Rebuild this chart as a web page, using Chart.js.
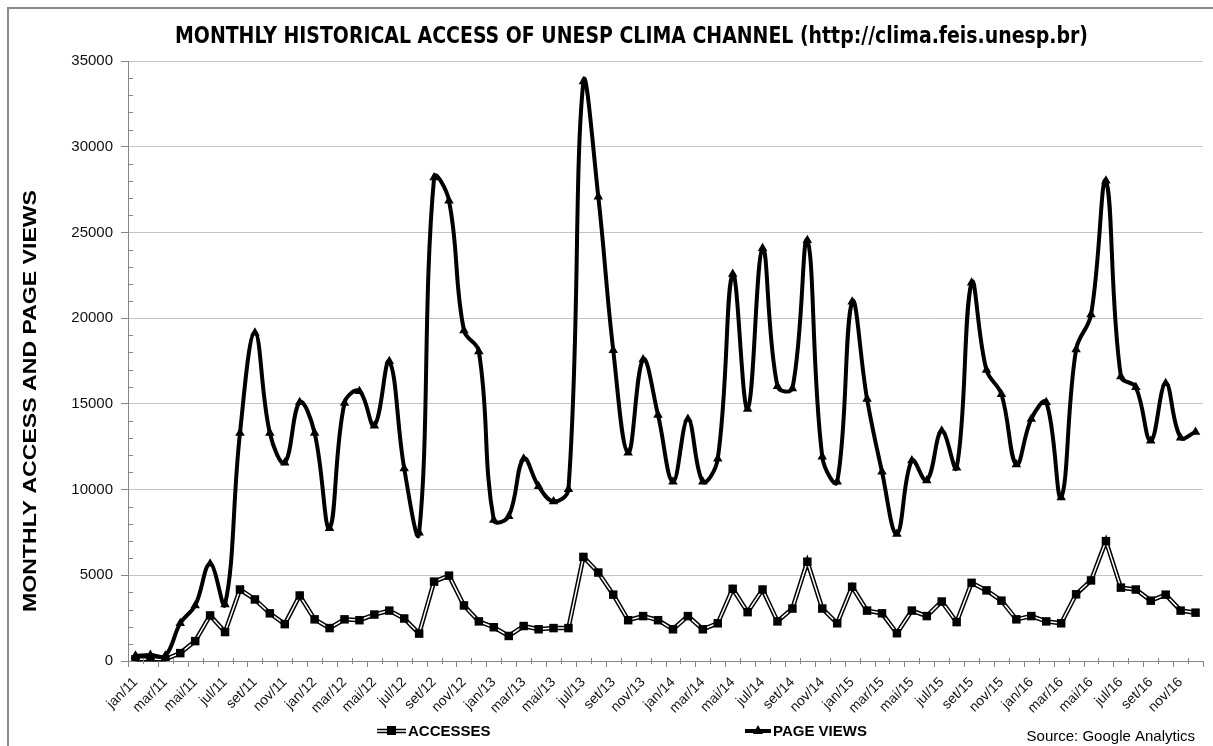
<!DOCTYPE html>
<html><head><meta charset="utf-8">
<script src="https://cdn.jsdelivr.net/npm/chart.js@4.4.0/dist/chart.umd.min.js"></script>
<style>html,body{margin:0;padding:0;background:#fff;overflow:hidden}canvas{display:block}</style>
</head><body>
<canvas id="c" width="1213" height="746"></canvas>
<script>
const monthNames = ['jan','fev','mar','abr','mai','jun','jul','ago','set','out','nov','dez'];
const years = ['11','12','13','14','15','16'];
const categories = [];
years.forEach(y => monthNames.forEach(m => categories.push(m + '/' + y)));

const accesses = [100,100,100,460,1160,2660,1690,4170,3590,2780,2150,3820,
  2430,1920,2430,2380,2710,2940,2480,1600,4630,4980,3240,2310,
  1970,1460,2040,1850,1920,1920,6070,5160,3870,2380,2620,2380,
  1850,2620,1850,2200,4210,2850,4170,2310,3060,5790,3060,2200,
  4330,2940,2780,1620,2940,2620,3470,2270,4560,4120,3520,2430,
  2620,2310,2200,3890,4700,6990,4280,4170,3520,3870,2940,2820];

const pageViews = [300,350,300,2200,3240,5670,3300,13300,19150,13300,11570,15090,
  13300,7750,15050,15740,13730,17480,11230,7480,28200,26850,19280,18060,
  8220,8450,11800,10190,9310,10020,33800,27080,18130,12150,17590,14350,
  10460,14120,10460,11800,22570,14700,24070,16020,15900,24540,11920,10460,
  20950,15280,11040,7410,11690,10530,13430,11280,22060,16970,15560,11460,
  14120,15090,9540,18170,20210,28010,16600,15970,12850,16200,13030,13360];

const yTicks = [0,5000,10000,15000,20000,25000,30000,35000];

const titleText = 'MONTHLY HISTORICAL ACCESS OF UNESP CLIMA CHANNEL (http://clima.feis.unesp.br)';
const yTitleText = 'MONTHLY ACCESS AND PAGE VIEWS';
const sourceText = 'Source: Google Analytics';
const seriesNames = ['PAGE VIEWS','ACCESSES'];

const AXIS = '#868686';
const GRID = '#c4c4c4';

function triangle(ctx, x, y, r) {
  ctx.beginPath();
  ctx.moveTo(x, y - r);
  ctx.lineTo(x + r, y + r * 0.8);
  ctx.lineTo(x - r, y + r * 0.8);
  ctx.closePath();
  ctx.fill();
}

const decor = {
  id: 'decor',
  beforeDatasetDraw(chart, args) {
    if (args.index !== 1) return;
    const pts = args.meta.data;
    const ctx = chart.ctx;
    ctx.save();
    ctx.strokeStyle = '#000';
    ctx.lineWidth = 4.5;
    ctx.beginPath();
    pts.forEach((p, i) => { if (i === 0) ctx.moveTo(p.x, p.y); else ctx.lineTo(p.x, p.y); });
    ctx.stroke();
    ctx.restore();
  },
  afterDraw(chart) {
    const ctx = chart.ctx;
    const ca = chart.chartArea;
    const ys = chart.scales.y;
    ctx.save();
    // frame (top & left only)
    ctx.fillStyle = '#8a8a8a';
    ctx.fillRect(7, 7, 2, 739);
    ctx.fillRect(7, 7, 1206, 2);

    // x tick marks
    ctx.strokeStyle = AXIS;
    ctx.lineWidth = 1;
    const n = categories.length;
    const w = (ca.right - ca.left) / n;
    for (let i = 0; i <= n; i++) {
      const x = Math.round(ca.left + w * i) + 0.5;
      const major = i % 2 === 0;
      ctx.beginPath();
      ctx.moveTo(x, ca.bottom - (major ? 0 : 3));
      ctx.lineTo(x, ca.bottom + (major ? 6 : 3));
      ctx.stroke();
    }
    // y minor ticks
    for (let v = 1000; v <= 35000; v += 1000) {
      if (v % 5000 === 0) continue;
      const y = Math.round(ys.getPixelForValue(v)) + 0.5;
      ctx.beginPath();
      ctx.moveTo(ca.left, y); ctx.lineTo(ca.left + 5, y);
      ctx.stroke();
    }

    // title
    ctx.fillStyle = '#000';
    ctx.font = 'bold 23px "Liberation Sans Narrow", "DejaVu Sans Condensed", "Liberation Sans", sans-serif';
    ctx.textBaseline = 'middle';
    ctx.textAlign = 'left';
    const tw = ctx.measureText(titleText).width;
    ctx.save();
    ctx.translate(175, 37);
    ctx.scale(913 / tw, 1);
    ctx.fillText(titleText, 0, 0);
    ctx.restore();

    // y title
    ctx.font = 'bold 19px "Liberation Sans", Arial, sans-serif';
    const yw = ctx.measureText(yTitleText).width;
    ctx.save();
    ctx.translate(31, 401);
    ctx.rotate(-Math.PI / 2);
    ctx.scale(422 / yw, 1);
    ctx.textAlign = 'center';
    ctx.fillText(yTitleText, 0, 0);
    ctx.restore();

    // legend
    const ly = 731;
    ctx.strokeStyle = '#000'; ctx.lineWidth = 4.5;
    ctx.beginPath(); ctx.moveTo(377, ly); ctx.lineTo(406, ly); ctx.stroke();
    ctx.strokeStyle = '#fff'; ctx.lineWidth = 1.5;
    ctx.beginPath(); ctx.moveTo(377, ly); ctx.lineTo(406, ly); ctx.stroke();
    ctx.fillStyle = '#000';
    ctx.fillRect(387, ly - 5, 9, 9);
    ctx.font = 'bold 15px "Liberation Sans", Arial, sans-serif';
    ctx.textAlign = 'left';
    ctx.fillText(seriesNames[1], 408, ly + 1);
    ctx.strokeStyle = '#000'; ctx.lineWidth = 4;
    ctx.beginPath(); ctx.moveTo(745, ly); ctx.lineTo(771, ly); ctx.stroke();
    triangle(ctx, 758, ly - 1, 5);
    ctx.fillText(seriesNames[0], 773, ly + 1);

    // source
    ctx.font = '15px "Liberation Sans", Arial, sans-serif';
    ctx.textAlign = 'right';
    ctx.fillText(sourceText, 1195, 737);
    ctx.restore();
  }
};

new Chart(document.getElementById('c'), {
  type: 'line',
  data: {
    labels: categories,
    datasets: [
      {
        label: seriesNames[0],
        data: pageViews,
        borderColor: '#000',
        backgroundColor: '#000',
        borderWidth: 4,
        tension: 0.4,
        pointStyle: 'triangle',
        pointRadius: 5.5,
        pointBorderWidth: 0,
        pointBackgroundColor: '#000',
        fill: false
      },
      {
        label: seriesNames[1],
        data: accesses,
        borderColor: '#fff',
        backgroundColor: '#000',
        borderWidth: 1.5,
        tension: 0,
        pointStyle: 'rect',
        pointRadius: 6,
        pointBorderWidth: 0,
        pointBackgroundColor: '#000',
        fill: false
      }
    ]
  },
  options: {
    responsive: false,
    animation: false,
    devicePixelRatio: 1,
    layout: { padding: { top: 61, left: 0, right: 10, bottom: 25 } },
    plugins: {
      legend: { display: false },
      title: { display: false },
      tooltip: { enabled: false }
    },
    scales: {
      x: {
        type: 'category',
        offset: true,
        grid: { display: false, offset: true },
        border: { display: true, color: AXIS, width: 1 },
        ticks: {
          autoSkip: false,
          minRotation: 45,
          maxRotation: 45,
          padding: 5,
          color: '#111',
          font: { family: '"Liberation Sans", Arial, sans-serif', size: 14 },
          callback: function (v, i) { return i % 2 === 0 ? categories[i] : ''; }
        },
        afterFit: function (s) { s.height = 60; }
      },
      y: {
        min: 0,
        max: 35000,
        afterBuildTicks: function (s) { s.ticks = yTicks.map(v => ({ value: v })); },
        grid: { color: GRID, lineWidth: 1, tickLength: 7, tickColor: AXIS },
        border: { display: true, color: AXIS, width: 1 },
        ticks: {
          padding: 8,
          color: '#111',
          font: { family: '"Liberation Sans", Arial, sans-serif', size: 15 },
          callback: function (v) { return String(v); }
        },
        afterFit: function (s) { s.width = 128; }
      }
    }
  },
  plugins: [decor]
});
</script>
</body></html>
